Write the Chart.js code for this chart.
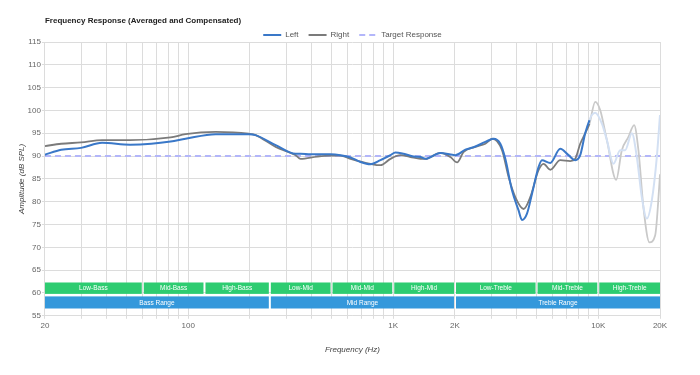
<!DOCTYPE html>
<html>
<head>
<meta charset="utf-8">
<script src="https://cdn.jsdelivr.net/npm/chart.js@4/dist/chart.umd.min.js"></script>
<style>
  html, body { margin: 0; padding: 0; background: #fff; }
  #wrap { width: 700px; height: 375px; position: relative; }
</style>
</head>
<body>
<div id="wrap"><canvas id="frChart"></canvas></div>
<script>
// --- data (frequency in Hz, amplitude in dB SPL) ---
const leftFreq = [20, 24, 30, 38, 52, 66, 82, 97, 136, 197, 213, 267, 334, 353, 395, 494, 553, 619, 692, 774, 866, 969, 1025, 1125, 1258, 1357, 1435, 1698, 2009, 2248, 2514, 2812, 3086, 3328, 3520, 3794, 4086, 4244, 4490, 4748, 5112, 5312, 5830, 6522, 7158, 7718, 8164, 8634, 9060, 9308, 9660, 10414, 11014, 11858, 12784, 13522, 14580, 15418, 16306, 17248, 18246, 19300, 20000];
const leftDb = [90.3, 91.4, 91.8, 92.9, 92.5, 92.7, 93.2, 93.8, 94.8, 94.8, 94.6, 92.4, 90.5, 90.5, 90.4, 90.4, 90.2, 89.7, 88.7, 88.2, 89.1, 90.2, 90.8, 90.5, 89.9, 89.8, 89.4, 90.7, 90.2, 91.4, 92.1, 93.1, 93.8, 92.7, 89.4, 82.5, 78.1, 76.0, 77.4, 81.7, 87.6, 89.1, 88.5, 91.6, 90.2, 89.1, 90.2, 95.0, 97.9, 99.0, 99.5, 97.1, 93.5, 88.3, 91.3, 91.3, 95.0, 89.8, 81.0, 76.3, 80.3, 89.8, 99.0];

const rightFreq = [20, 24, 30, 38, 52, 82, 97, 136, 197, 213, 267, 334, 353, 426, 494, 553, 619, 774, 866, 969, 1084, 1212, 1357, 1435, 1698, 1899, 2048, 2206, 2514, 2812, 3053, 3392, 3652, 3938, 4322, 4658, 5112, 5410, 5830, 6522, 7296, 7718, 8164, 8634, 9060, 9660, 10216, 11014, 12224, 13028, 14032, 14958, 15696, 16602, 17760, 18938, 19872, 20000];
const rightDb = [92.2, 92.7, 93.0, 93.5, 93.5, 94.1, 94.8, 95.3, 94.9, 94.6, 92.0, 90.2, 89.4, 89.9, 90.1, 90.1, 89.4, 88.3, 88.0, 89.4, 90.2, 89.8, 89.4, 89.4, 90.7, 89.8, 88.6, 90.9, 92.0, 92.7, 93.8, 91.3, 85.4, 81.0, 78.4, 81.0, 86.9, 88.3, 87.0, 89.1, 88.9, 89.4, 92.7, 95.0, 97.1, 101.9, 100.1, 93.5, 84.8, 91.3, 94.2, 96.8, 91.3, 78.8, 71.1, 72.6, 84.0, 86.0];

const targetFreq = [20, 20000];
const targetDb = [90, 90];

// x grid lines and the labelled ones
const gridFreqs = [20, 30, 40, 50, 60, 70, 80, 90, 100, 200, 300, 400, 500, 600, 700, 800, 900, 1000, 2000, 3000, 4000, 5000, 6000, 7000, 8000, 9000, 10000, 20000];
const labelFreqs = [20, 100, 1000, 2000, 10000, 20000];
const labelTexts = ['20', '100', '1K', '2K', '10K', '20K'];

// frequency bands
const bandNames = ['Low-Bass', 'Mid-Bass', 'High-Bass', 'Low-Mid', 'Mid-Mid', 'High-Mid', 'Low-Treble', 'Mid-Treble', 'High-Treble'];
const bandStart = [20, 60, 120, 250, 500, 1000, 2000, 5000, 10000];
const bandEnd = [60, 120, 250, 500, 1000, 2000, 5000, 10000, 20000];
const rangeNames = ['Bass Range', 'Mid Range', 'Treble Range'];
const rangeStart = [20, 250, 2000];
const rangeEnd = [250, 2000, 20000];

const fadeFrom = 9000; // past this the measurement is drawn faded

const toPoints = (xs, ys) => xs.map((x, i) => ({ x: x, y: ys[i] }));

const fontFamily = "'Liberation Sans', Arial, sans-serif";

// bands drawn under the curves
const bandPlugin = {
  id: 'bands',
  beforeDatasetsDraw(chart, args, opts) {
    const { ctx } = chart;
    const xs = chart.scales.x;
    const ys = chart.scales.y;
    const drawRow = (names, starts, ends, top, bottom, color) => {
      const y0 = ys.getPixelForValue(top);
      const y1 = ys.getPixelForValue(bottom);
      names.forEach((name, i) => {
        const x0 = xs.getPixelForValue(starts[i]) + (i === 0 ? 0 : 1);
        const x1 = xs.getPixelForValue(ends[i]) - (i === names.length - 1 ? 0 : 1);
        ctx.fillStyle = color;
        ctx.fillRect(x0, y0, x1 - x0, y1 - y0);
        ctx.fillStyle = '#fff';
        ctx.font = '6.5px ' + fontFamily;
        ctx.textAlign = 'center';
        ctx.textBaseline = 'middle';
        ctx.fillText(name, (x0 + x1) / 2, (y0 + y1) / 2 + 0.5);
      });
    };
    ctx.save();
    drawRow(bandNames, bandStart, bandEnd, opts.bandTop, opts.bandBottom, opts.bandColor);
    drawRow(rangeNames, rangeStart, rangeEnd, opts.rangeTop, opts.rangeBottom, opts.rangeColor);
    ctx.restore();
  }
};

// title sits flush with the plot's left edge
const titlePlugin = {
  id: 'leftTitle',
  afterDraw(chart, args, opts) {
    const { ctx } = chart;
    ctx.save();
    ctx.fillStyle = '#222';
    ctx.font = 'bold 8px ' + fontFamily;
    ctx.textAlign = 'left';
    ctx.textBaseline = 'middle';
    ctx.fillText(opts.text, chart.chartArea.left, 21);
    ctx.restore();
  }
};

// pull the plot closer to the legend and centre the legend over the plot
const legendGap = {
  id: 'legendGap',
  beforeInit(chart) {
    const fit = chart.legend.fit;
    chart.legend.fit = function () {
      fit.call(this);
      this.height -= 7;
    };
  },
  afterLayout(chart) {
    chart.legend.left = chart.chartArea.left;
    chart.legend.right = chart.chartArea.right;
  }
};

const ctx = document.getElementById('frChart').getContext('2d');

new Chart(ctx, {
  type: 'line',
  data: {
    datasets: [
      {
        label: 'Left',
        data: toPoints(leftFreq, leftDb),
        borderColor: '#3a78c8',
        backgroundColor: '#3a78c8',
        borderWidth: 2,
        pointRadius: 0,
        cubicInterpolationMode: 'monotone',
        segment: { borderColor: (c) => (c.p0.parsed.x >= fadeFrom ? '#d3e0f3' : undefined) },
      },
      {
        label: 'Right',
        data: toPoints(rightFreq, rightDb),
        borderColor: '#7b7b7b',
        backgroundColor: '#7b7b7b',
        borderWidth: 1.8,
        pointRadius: 0,
        cubicInterpolationMode: 'monotone',
        segment: { borderColor: (c) => (c.p0.parsed.x >= fadeFrom ? '#c9c9c9' : undefined) },
      },
      {
        label: 'Target Response',
        data: toPoints(targetFreq, targetDb),
        borderColor: '#b3b6fa',
        backgroundColor: '#b3b6fa',
        borderWidth: 2,
        borderDash: [6, 4],
        pointRadius: 0,
      },
    ],
  },
  options: {
    responsive: true,
    maintainAspectRatio: false,
    animation: false,
    layout: { padding: { top: 21, right: 40, bottom: 20, left: 0 } },
    scales: {
      x: {
        type: 'logarithmic',
        min: 20,
        max: 20000,
        afterBuildTicks: (axis) => {
          axis.ticks = gridFreqs.map((v) => ({ value: v }));
        },
        ticks: {
          autoSkip: false,
          maxRotation: 0,
          color: '#666',
          font: { family: fontFamily, size: 8 },
          padding: 2,
          callback: (value) => {
            const i = labelFreqs.indexOf(value);
            return i >= 0 ? labelTexts[i] : '';
          },
        },
        grid: { color: '#dcdcdc', tickLength: 3 },
        border: { color: '#dcdcdc' },
        title: {
          display: true,
          text: 'Frequency (Hz)',
          color: '#444',
          font: { family: fontFamily, size: 8, style: 'italic' },
          padding: { top: 13, bottom: 0 },
        },
      },
      y: {
        min: 55,
        max: 115,
        ticks: { stepSize: 5, color: '#666', font: { family: fontFamily, size: 8 }, padding: 1 },
        grid: { color: '#dcdcdc', tickLength: 3 },
        border: { color: '#dcdcdc' },
        title: {
          display: true,
          text: 'Amplitude (dB SPL)',
          color: '#444',
          font: { family: fontFamily, size: 8, style: 'italic' },
          padding: { top: 17, bottom: 0 },
        },
      },
    },
    plugins: {
      legend: {
        position: 'top',
        labels: {
          usePointStyle: true,
          pointStyle: 'line',
          pointStyleWidth: 18,
          color: '#555',
          font: { family: fontFamily, size: 8 },
          padding: 10,
          generateLabels: (chart) =>
            Chart.defaults.plugins.legend.labels.generateLabels(chart).map((item) => {
              const ds = chart.data.datasets[item.datasetIndex];
              item.lineDash = ds.borderDash || [];
              item.strokeStyle = ds.borderColor;
              item.lineWidth = 2;
              return item;
            }),
        },
      },
      tooltip: { enabled: false },
      bands: {
        bandTop: 62.3,
        bandBottom: 59.8,
        bandColor: '#2ecc71',
        rangeTop: 59.25,
        rangeBottom: 56.6,
        rangeColor: '#3498db',
      },
      leftTitle: { text: 'Frequency Response (Averaged and Compensated)' },
    },
  },
  plugins: [bandPlugin, titlePlugin, legendGap],
});
</script>
</body>
</html>
